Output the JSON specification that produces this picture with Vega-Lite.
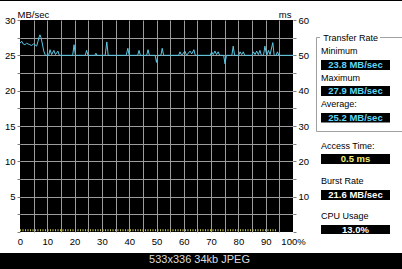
{
  "$schema": "https://vega.github.io/schema/vega-lite/v6.json",
  "width": 273,
  "height": 212,
  "autosize": {"type": "none"},
  "padding": {"left": 20, "top": 20, "right": 109, "bottom": 37},
  "background": "white",
  "config": {
    "view": {"fill": "black", "stroke": null},
    "font": "Liberation Sans",
    "text": {"font": "Liberation Sans"}
  },
  "datasets": {
    "transfer": [
      {"pct": 0, "mbs": 26.7}, {"pct": 0.6, "mbs": 27.0}, {"pct": 1.2, "mbs": 26.6}, {"pct": 1.8, "mbs": 26.5},
      {"pct": 2.4, "mbs": 26.7}, {"pct": 3.0, "mbs": 26.6}, {"pct": 3.6, "mbs": 26.5}, {"pct": 4.3, "mbs": 26.4},
      {"pct": 4.9, "mbs": 26.6}, {"pct": 5.5, "mbs": 26.5}, {"pct": 6.1, "mbs": 26.3}, {"pct": 6.6, "mbs": 27.0},
      {"pct": 7.0, "mbs": 27.6}, {"pct": 7.3, "mbs": 27.9}, {"pct": 7.7, "mbs": 27.5}, {"pct": 8.2, "mbs": 26.6},
      {"pct": 8.7, "mbs": 25.6}, {"pct": 9.3, "mbs": 25.0}, {"pct": 10.5, "mbs": 25.0}, {"pct": 11.0, "mbs": 25.8},
      {"pct": 11.6, "mbs": 25.1}, {"pct": 12.4, "mbs": 25.7}, {"pct": 13.0, "mbs": 25.1}, {"pct": 13.9, "mbs": 25.6},
      {"pct": 14.4, "mbs": 25.0}, {"pct": 19.3, "mbs": 25.0}, {"pct": 19.8, "mbs": 26.5}, {"pct": 20.3, "mbs": 25.0},
      {"pct": 23.9, "mbs": 25.0}, {"pct": 24.4, "mbs": 25.7}, {"pct": 24.9, "mbs": 25.0}, {"pct": 27.4, "mbs": 25.0},
      {"pct": 27.8, "mbs": 25.3}, {"pct": 28.2, "mbs": 25.0}, {"pct": 31.2, "mbs": 25.0}, {"pct": 31.8, "mbs": 26.9},
      {"pct": 32.3, "mbs": 25.0}, {"pct": 38.9, "mbs": 25.0}, {"pct": 39.5, "mbs": 26.0}, {"pct": 40.0, "mbs": 25.0},
      {"pct": 43.1, "mbs": 25.0}, {"pct": 43.6, "mbs": 25.7}, {"pct": 44.1, "mbs": 25.0}, {"pct": 46.4, "mbs": 25.0},
      {"pct": 46.9, "mbs": 25.8}, {"pct": 47.4, "mbs": 25.0}, {"pct": 49.5, "mbs": 25.0}, {"pct": 50.0, "mbs": 24.0},
      {"pct": 50.5, "mbs": 25.0}, {"pct": 51.6, "mbs": 25.0}, {"pct": 52.1, "mbs": 26.0}, {"pct": 52.6, "mbs": 25.0},
      {"pct": 58.1, "mbs": 25.0}, {"pct": 58.6, "mbs": 25.5}, {"pct": 59.2, "mbs": 25.0}, {"pct": 60.4, "mbs": 25.6},
      {"pct": 61.0, "mbs": 25.0}, {"pct": 62.3, "mbs": 25.6}, {"pct": 62.9, "mbs": 25.2}, {"pct": 63.7, "mbs": 25.8},
      {"pct": 64.2, "mbs": 25.0}, {"pct": 69.7, "mbs": 25.0}, {"pct": 70.2, "mbs": 25.5}, {"pct": 70.8, "mbs": 25.1},
      {"pct": 71.4, "mbs": 25.6}, {"pct": 72.0, "mbs": 25.1}, {"pct": 72.6, "mbs": 25.5}, {"pct": 73.1, "mbs": 25.0},
      {"pct": 74.6, "mbs": 25.0}, {"pct": 75.1, "mbs": 23.8}, {"pct": 75.6, "mbs": 25.0}, {"pct": 77.6, "mbs": 25.0},
      {"pct": 78.1, "mbs": 26.3}, {"pct": 78.6, "mbs": 25.0}, {"pct": 80.1, "mbs": 25.0}, {"pct": 80.6, "mbs": 25.5},
      {"pct": 81.2, "mbs": 25.1}, {"pct": 81.8, "mbs": 25.5}, {"pct": 82.3, "mbs": 25.0}, {"pct": 85.0, "mbs": 25.0},
      {"pct": 85.5, "mbs": 25.5}, {"pct": 86.1, "mbs": 25.1}, {"pct": 86.7, "mbs": 25.6}, {"pct": 87.3, "mbs": 25.1},
      {"pct": 87.9, "mbs": 25.7}, {"pct": 88.4, "mbs": 25.0}, {"pct": 89.2, "mbs": 25.0}, {"pct": 89.7, "mbs": 26.3},
      {"pct": 90.4, "mbs": 25.0}, {"pct": 91.0, "mbs": 25.7}, {"pct": 91.6, "mbs": 25.1}, {"pct": 92.6, "mbs": 26.8},
      {"pct": 93.1, "mbs": 25.0}, {"pct": 93.8, "mbs": 25.0}, {"pct": 94.3, "mbs": 25.5}, {"pct": 94.8, "mbs": 25.0},
      {"pct": 100, "mbs": 25.0}
    ],
    "access": [
      {"pct": 0, "ms": 0.5}, {"pct": 20, "ms": 0.5}, {"pct": 40, "ms": 0.5}, {"pct": 60, "ms": 0.5}, {"pct": 80, "ms": 0.5}, {"pct": 94, "ms": 0.5}
    ]
  },
  "layer": [
    {
      "data": {"name": "transfer"},
      "mark": {"type": "line", "color": "#5cc8e4", "strokeWidth": 1},
      "encoding": {
        "x": {
          "field": "pct", "type": "quantitative",
          "scale": {"domain": [0, 100], "nice": false, "zero": false},
          "axis": {
            "title": null, "orient": "bottom",
            "values": [0, 5, 10, 15, 20, 25, 30, 35, 40, 45, 50, 55, 60, 65, 70, 75, 80, 85, 90, 95, 100],
            "labelExpr": "datum.value % 10 === 0 ? (datum.value === 100 ? '100%' : datum.label) : ''",
            "labelOverlap": false, "labelFlush": false,
            "grid": true, "gridColor": "#9c9c9c",
            "gridOpacity": {"condition": {"test": "datum.value <= 0 || datum.value >= 100", "value": 0}, "value": 1},
            "ticks": false, "domain": false,
            "labelFont": "Liberation Sans", "labelFontSize": 9.5, "labelColor": "black", "labelPadding": 4
          }
        },
        "y": {
          "field": "mbs", "type": "quantitative",
          "scale": {"domain": [0, 30], "nice": false, "zero": false},
          "axis": {
            "orient": "left",
            "values": [0, 2.5, 5, 7.5, 10, 12.5, 15, 17.5, 20, 22.5, 25, 27.5, 30],
            "labelExpr": "datum.value % 5 === 0 && datum.value > 0 ? datum.label : ''",
            "labelOverlap": false, "labelFlush": false,
            "grid": true, "gridColor": "#9c9c9c",
            "gridOpacity": {"condition": {"test": "datum.value <= 0 || datum.value >= 30", "value": 0}, "value": 1},
            "tickSize": 3, "tickColor": "#808080", "domain": false,
            "labelFont": "Liberation Sans", "labelFontSize": 9.5, "labelColor": "black", "labelPadding": 2,
            "title": "MB/sec", "titleAngle": 0, "titleAlign": "left", "titleBaseline": "alphabetic",
            "titleX": -3, "titleY": -3, "titleFont": "Liberation Sans", "titleFontSize": 9.5, "titleFontWeight": "normal", "titleColor": "black"
          }
        }
      }
    },
    {
      "data": {"name": "access"},
      "mark": {"type": "line", "color": "#c8c850", "strokeWidth": 2, "strokeDash": [1, 1.5]},
      "encoding": {
        "x": {"field": "pct", "type": "quantitative", "scale": {"domain": [0, 100], "nice": false, "zero": false}, "axis": null},
        "y": {
          "field": "ms", "type": "quantitative",
          "scale": {"domain": [0, 60], "nice": false, "zero": false},
          "axis": {
            "orient": "right",
            "values": [0, 5, 10, 15, 20, 25, 30, 35, 40, 45, 50, 55, 60],
            "labelExpr": "datum.value % 10 === 0 && datum.value > 0 ? datum.label : ''",
            "labelOverlap": false, "labelFlush": false,
            "grid": false, "tickSize": 3, "tickColor": "#808080", "domain": false,
            "labelFont": "Liberation Sans", "labelFontSize": 9.5, "labelColor": "black", "labelPadding": 2,
            "title": "ms", "titleAngle": 0, "titleAlign": "right", "titleBaseline": "alphabetic",
            "titleX": -2, "titleY": -3, "titleFont": "Liberation Sans", "titleFontSize": 9.5, "titleFontWeight": "normal", "titleColor": "black"
          }
        }
      }
    },
    {
      "layer": [
        {
          "data": {"values": [{}]},
          "mark": {"type": "rect", "color": "black"},
          "encoding": {
            "x": {"datum": -8, "axis": null, "scale": {"domain": [0, 100], "nice": false, "zero": false}},
            "x2": {"datum": 141},
            "y": {"datum": -2.97, "axis": null, "scale": {"domain": [0, 30], "nice": false, "zero": false}},
            "y2": {"datum": -5.6}
          }
        },
        {
          "data": {"values": [{}]},
          "mark": {"type": "rect", "color": "black"},
          "encoding": {"x": {"datum": -8, "axis": null}, "x2": {"datum": 141}, "y": {"datum": 33.2, "axis": null}, "y2": {"datum": 32.69}}
        },
        {
          "data": {"values": [{}]},
          "mark": {"type": "text", "text": "533x336 34kb JPEG", "color": "#dcdcdc", "fontSize": 11, "align": "center", "baseline": "middle"},
          "encoding": {"x": {"datum": 65.75, "axis": null}, "y": {"datum": -3.96, "axis": null}}
        },
        {
          "data": {"values": [{}]},
          "mark": {"type": "rect", "filled": false, "color": "#a0a0a0", "strokeWidth": 1},
          "encoding": {"x": {"datum": 108.61, "axis": null}, "x2": {"datum": 145}, "y": {"datum": 27.524, "axis": null}, "y2": {"datum": 14.222}}
        },
        {
          "data": {"values": [{}]},
          "mark": {"type": "rect", "color": "white"},
          "encoding": {"x": {"datum": 109.89, "axis": null}, "x2": {"datum": 131.87}, "y": {"datum": 28.3, "axis": null}, "y2": {"datum": 26.89}}
        },
        {
          "data": {"values": [{}]},
          "mark": {"type": "text", "text": "Transfer Rate", "color": "black", "fontSize": 9, "align": "left", "baseline": "middle"},
          "encoding": {"x": {"datum": 111.1, "axis": null}, "y": {"datum": 27.52, "axis": null}}
        },
        {
          "data": {"values": [{}]},
          "mark": {"type": "text", "text": "Minimum", "color": "black", "fontSize": 9, "align": "left", "baseline": "middle"},
          "encoding": {"x": {"datum": 110.26, "axis": null}, "y": {"datum": 25.61, "axis": null}}
        },
        {
          "data": {"values": [{}]},
          "mark": {"type": "text", "text": "Maximum", "color": "black", "fontSize": 9, "align": "left", "baseline": "middle"},
          "encoding": {"x": {"datum": 110.26, "axis": null}, "y": {"datum": 21.86, "axis": null}}
        },
        {
          "data": {"values": [{}]},
          "mark": {"type": "text", "text": "Average:", "color": "black", "fontSize": 9, "align": "left", "baseline": "middle"},
          "encoding": {"x": {"datum": 110.26, "axis": null}, "y": {"datum": 18.18, "axis": null}}
        },
        {
          "data": {"values": [{}]},
          "mark": {"type": "text", "text": "Access Time:", "color": "black", "fontSize": 9, "align": "left", "baseline": "middle"},
          "encoding": {"x": {"datum": 110.26, "axis": null}, "y": {"datum": 12.24, "axis": null}}
        },
        {
          "data": {"values": [{}]},
          "mark": {"type": "text", "text": "Burst Rate", "color": "black", "fontSize": 9, "align": "left", "baseline": "middle"},
          "encoding": {"x": {"datum": 110.26, "axis": null}, "y": {"datum": 7.22, "axis": null}}
        },
        {
          "data": {"values": [{}]},
          "mark": {"type": "text", "text": "CPU Usage", "color": "black", "fontSize": 9, "align": "left", "baseline": "middle"},
          "encoding": {"x": {"datum": 110.26, "axis": null}, "y": {"datum": 2.22, "axis": null}}
        },
        {
          "data": {"values": [{}]},
          "mark": {"type": "rect", "color": "black"},
          "encoding": {"x": {"datum": 110.26, "axis": null}, "x2": {"datum": 135.53}, "y": {"datum": 24.34, "axis": null}, "y2": {"datum": 22.92}}
        },
        {
          "data": {"values": [{}]},
          "mark": {"type": "rect", "color": "black"},
          "encoding": {"x": {"datum": 110.26, "axis": null}, "x2": {"datum": 135.53}, "y": {"datum": 20.66, "axis": null}, "y2": {"datum": 19.25}}
        },
        {
          "data": {"values": [{}]},
          "mark": {"type": "rect", "color": "black"},
          "encoding": {"x": {"datum": 110.26, "axis": null}, "x2": {"datum": 135.53}, "y": {"datum": 16.84, "axis": null}, "y2": {"datum": 15.5}}
        },
        {
          "data": {"values": [{}]},
          "mark": {"type": "rect", "color": "black"},
          "encoding": {"x": {"datum": 110.26, "axis": null}, "x2": {"datum": 135.53}, "y": {"datum": 11.04, "axis": null}, "y2": {"datum": 9.62}}
        },
        {
          "data": {"values": [{}]},
          "mark": {"type": "rect", "color": "black"},
          "encoding": {"x": {"datum": 110.26, "axis": null}, "x2": {"datum": 135.53}, "y": {"datum": 5.94, "axis": null}, "y2": {"datum": 4.53}}
        },
        {
          "data": {"values": [{}]},
          "mark": {"type": "rect", "color": "black"},
          "encoding": {"x": {"datum": 110.26, "axis": null}, "x2": {"datum": 135.53}, "y": {"datum": 0.99, "axis": null}, "y2": {"datum": -0.28}}
        },
        {
          "data": {"values": [{}]},
          "mark": {"type": "text", "text": "23.8 MB/sec", "color": "#5ed6f6", "fontSize": 9.5, "fontWeight": "bold", "align": "center", "baseline": "middle"},
          "encoding": {"x": {"datum": 122.89, "axis": null}, "y": {"datum": 23.63, "axis": null}}
        },
        {
          "data": {"values": [{}]},
          "mark": {"type": "text", "text": "27.9 MB/sec", "color": "#5ed6f6", "fontSize": 9.5, "fontWeight": "bold", "align": "center", "baseline": "middle"},
          "encoding": {"x": {"datum": 122.89, "axis": null}, "y": {"datum": 19.95, "axis": null}}
        },
        {
          "data": {"values": [{}]},
          "mark": {"type": "text", "text": "25.2 MB/sec", "color": "#5ed6f6", "fontSize": 9.5, "fontWeight": "bold", "align": "center", "baseline": "middle"},
          "encoding": {"x": {"datum": 122.89, "axis": null}, "y": {"datum": 16.13, "axis": null}}
        },
        {
          "data": {"values": [{}]},
          "mark": {"type": "text", "text": "0.5 ms", "color": "#f2f27a", "fontSize": 9.5, "fontWeight": "bold", "align": "center", "baseline": "middle"},
          "encoding": {"x": {"datum": 122.89, "axis": null}, "y": {"datum": 10.33, "axis": null}}
        },
        {
          "data": {"values": [{}]},
          "mark": {"type": "text", "text": "21.6 MB/sec", "color": "white", "fontSize": 9.5, "fontWeight": "bold", "align": "center", "baseline": "middle"},
          "encoding": {"x": {"datum": 122.89, "axis": null}, "y": {"datum": 5.24, "axis": null}}
        },
        {
          "data": {"values": [{}]},
          "mark": {"type": "text", "text": "13.0%", "color": "white", "fontSize": 9.5, "fontWeight": "bold", "align": "center", "baseline": "middle"},
          "encoding": {"x": {"datum": 122.89, "axis": null}, "y": {"datum": 0.35, "axis": null}}
        }
      ]
    }
  ],
  "resolve": {
    "scale": {"x": "independent", "y": "independent"},
    "axis": {"x": "independent", "y": "independent"}
  }
}
